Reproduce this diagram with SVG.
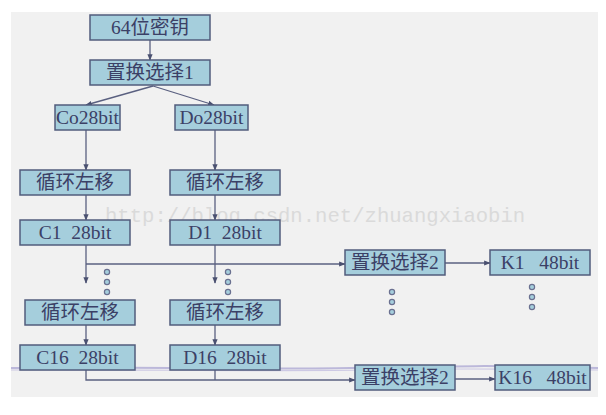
<svg xmlns="http://www.w3.org/2000/svg" width="606" height="415" viewBox="0 0 606 415">
<defs>
<style>
.box{fill:#a5cedc;stroke:#525c7c;stroke-width:1.5}
.lbl{font-family:"Liberation Serif","Noto Sans CJK SC",serif;font-size:19.5px;fill:#3b4066;text-anchor:middle}
.ln{fill:none;stroke:#5a6080;stroke-width:1.3}
.dot{fill:#a5cedc;stroke:#6a7090;stroke-width:1.2}
</style>
<marker id="ah" viewBox="0 0 10 10" refX="9" refY="5" markerWidth="5" markerHeight="5" orient="auto"><path d="M0,1 L10,5 L0,9 z" fill="#4a5070"/></marker>
</defs>
<rect x="0" y="0" width="606" height="415" fill="#ffffff"/>
<rect x="11" y="12" width="587" height="385" fill="#f1f1f1"/>
<path d="M11,368 C120,366 250,370 350,368 S500,365 598,368" fill="none" stroke="#bcb8da" stroke-width="2"/>
<path d="M11,370 C130,369 260,372 360,370 S510,369 598,370" fill="none" stroke="#cdc9e4" stroke-width="1.2"/>
<text x="105" y="222" font-family="Liberation Mono,monospace" font-size="20.6" fill="#dadada">http://blog.csdn.net/zhuangxiaobin</text>
<g id="connectors">
<line class="ln" x1="150" y1="40" x2="150" y2="60" marker-end="url(#ah)"/>
<line class="ln" x1="153" y1="86" x2="86" y2="105" marker-end="url(#ah)"/>
<line class="ln" x1="153" y1="86" x2="214" y2="105" marker-end="url(#ah)"/>
<line class="ln" x1="86" y1="130" x2="86" y2="170" marker-end="url(#ah)"/>
<line class="ln" x1="215" y1="130" x2="215" y2="170" marker-end="url(#ah)"/>
<line class="ln" x1="86" y1="195" x2="86" y2="220" marker-end="url(#ah)"/>
<line class="ln" x1="215" y1="195" x2="215" y2="220" marker-end="url(#ah)"/>
<line class="ln" x1="86" y1="245" x2="86" y2="283" marker-end="url(#ah)"/>
<line class="ln" x1="215" y1="245" x2="215" y2="283" marker-end="url(#ah)"/>
<line class="ln" x1="86" y1="264" x2="345" y2="264" marker-end="url(#ah)"/>
<line class="ln" x1="445" y1="263" x2="490" y2="263" marker-end="url(#ah)"/>
<line class="ln" x1="86" y1="325" x2="86" y2="345" marker-end="url(#ah)"/>
<line class="ln" x1="215" y1="325" x2="215" y2="345" marker-end="url(#ah)"/>
<polyline class="ln" points="86,370 86,380 355,380" marker-end="url(#ah)"/>
<line class="ln" x1="215" y1="370" x2="215" y2="380"/>
<line class="ln" x1="455" y1="379" x2="495" y2="379" marker-end="url(#ah)"/>
</g>
<g id="dots">
<circle class="dot" cx="107" cy="272" r="2.6"/><circle class="dot" cx="107" cy="282" r="2.6"/><circle class="dot" cx="107" cy="292" r="2.6"/>
<circle class="dot" cx="228" cy="272" r="2.6"/><circle class="dot" cx="228" cy="282" r="2.6"/><circle class="dot" cx="228" cy="292" r="2.6"/>
<circle class="dot" cx="392" cy="292" r="2.6"/><circle class="dot" cx="392" cy="302" r="2.6"/><circle class="dot" cx="392" cy="312" r="2.6"/>
<circle class="dot" cx="532" cy="287" r="2.6"/><circle class="dot" cx="532" cy="297" r="2.6"/><circle class="dot" cx="532" cy="307" r="2.6"/>
</g>
<g id="key64"><rect class="box" x="90" y="15" width="120" height="25"/><text class="lbl" x="150" y="34">64位密钥</text></g>
<g id="pc1"><rect class="box" x="90" y="60" width="120" height="25"/><text class="lbl" x="150" y="79">置换选择1</text></g>
<g id="c0"><rect class="box" x="55" y="105" width="65" height="25"/><text class="lbl" x="87.5" y="124">Co28bit</text></g>
<g id="d0"><rect class="box" x="175" y="105" width="73" height="25"/><text class="lbl" x="211.5" y="124">Do28bit</text></g>
<g id="shl1c"><rect class="box" x="20" y="170" width="110" height="25"/><text class="lbl" x="75" y="189">循环左移</text></g>
<g id="shl1d"><rect class="box" x="170" y="170" width="110" height="25"/><text class="lbl" x="225" y="189">循环左移</text></g>
<g id="c1"><rect class="box" x="20" y="220" width="110" height="25"/><text class="lbl" x="75" y="239" xml:space="preserve">C1  28bit</text></g>
<g id="d1"><rect class="box" x="170" y="220" width="110" height="25"/><text class="lbl" x="225" y="239" xml:space="preserve">D1  28bit</text></g>
<g id="pc2a"><rect class="box" x="345" y="250" width="100" height="25"/><text class="lbl" x="395" y="269">置换选择2</text></g>
<g id="k1"><rect class="box" x="490" y="250" width="100" height="25"/><text class="lbl" x="540" y="269" xml:space="preserve">K1   48bit</text></g>
<g id="shl16c"><rect class="box" x="25" y="300" width="110" height="25"/><text class="lbl" x="80" y="319">循环左移</text></g>
<g id="shl16d"><rect class="box" x="170" y="300" width="110" height="25"/><text class="lbl" x="225" y="319">循环左移</text></g>
<g id="c16"><rect class="box" x="20" y="345" width="115" height="25"/><text class="lbl" x="77.5" y="364" xml:space="preserve">C16  28bit</text></g>
<g id="d16"><rect class="box" x="170" y="345" width="110" height="25"/><text class="lbl" x="225" y="364" xml:space="preserve">D16  28bit</text></g>
<g id="pc2b"><rect class="box" x="355" y="365" width="100" height="25"/><text class="lbl" x="405" y="384">置换选择2</text></g>
<g id="k16"><rect class="box" x="495" y="365" width="95" height="25"/><text class="lbl" x="542.5" y="384" xml:space="preserve">K16   48bit</text></g>
</svg>
